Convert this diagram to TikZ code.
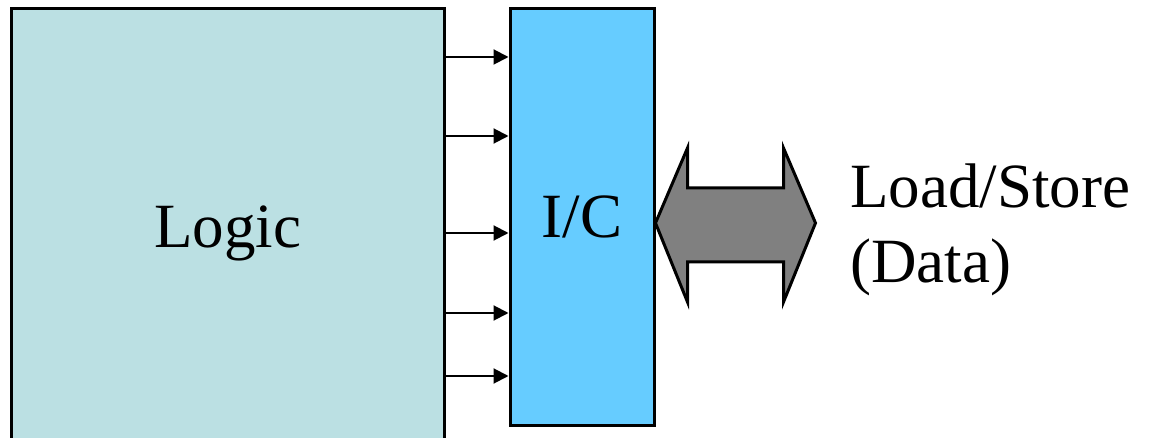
\documentclass[tikz,border=0pt]{standalone}
\usepackage{fontspec}
\setmainfont{Liberation Serif}
\usetikzlibrary{arrows.meta}
\definecolor{logicfill}{RGB}{187,224,227}
\definecolor{icfill}{RGB}{102,204,255}
\tikzset{
  logicbox/.style={draw=black, line width=3pt, fill=logicfill, inner sep=0pt},
  icbox/.style={draw=black, line width=3pt, fill=icfill, inner sep=0pt},
  sigline/.style={line width=2pt, -{Triangle[length=15pt,width=15pt]}},
  busarrow/.style={draw=black, line width=3pt, fill=black!50, line join=miter},
  bigtext/.style={font=\fontsize{63}{75}\selectfont}
}

\begin{document}
\begin{tikzpicture}[x=1pt, y=-1pt]
			%%%%% START %%%%%
			
			\useasboundingbox (0, 0) rectangle (1152, 438);
			
			\node[logicbox, bigtext, minimum width=433pt, minimum height=449pt] (logic) at (227.5, 233.3) {Logic};
			\node[icbox, bigtext, minimum width=144pt, minimum height=416pt] (ic) at (582, 217) {I/C};
			
			% signals into the interconnect
			\foreach \y in {57, 136, 233, 313, 376}
				\draw[sigline] (logic.east |- 0, \y) -- (ic.west |- 0, \y);
			
			% load/store path
			\draw[busarrow] (ic.east |- 0, 223) -- ++(32, -75) -- ++(0, 40) -- ++(96, 0) -- ++(0, -40)
				-- ++(32, 75) -- ++(-32, 79) -- ++(0, -40) -- ++(-96, 0) -- ++(0, 40) -- cycle;
			
			\node[bigtext, align=left, inner sep=0pt, anchor=base west] (ldst) at (850, 283) {Load/Store\\(Data)};
			
			%%%%% END %%%%%
\end{tikzpicture}
\end{document}
